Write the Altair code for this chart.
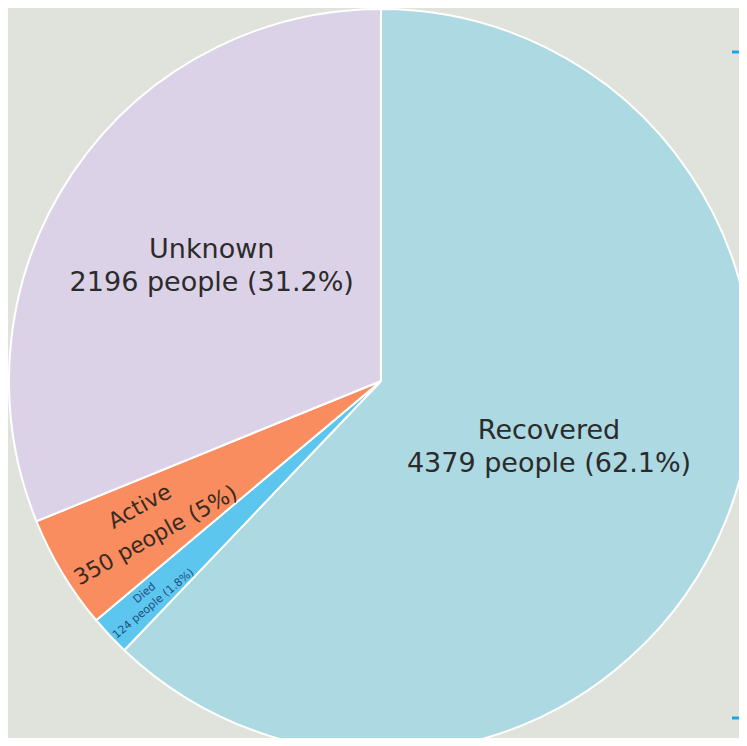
import altair as alt
import pandas as pd

categories = ["Recovered", "Died", "Active", "Unknown"]
people = [4379, 124, 350, 2196]
pct_labels = ["62.1%", "1.8%", "5%", "31.2%"]
colors = ["#add9e2", "#5cc6ef", "#f98d5f", "#dcd2e8"]
order = [0, 1, 2, 3]

label_radius = [181, 318, 272, 204]
label_angle = [0, 320, 331, 0]
label_size = [27, 11, 22, 27]
label_color = ["#2b2b2b", "#1f4f80", "#3a2a22", "#2b2b2b"]
label_small = [False, True, False, False]

df = pd.DataFrame({
    "category": categories,
    "people": people,
    "ord": order,
    "lines": [[c, f"{p} people ({q})"] for c, p, q in zip(categories, people, pct_labels)],
    "lr": label_radius,
    "la": label_angle,
    "ls": label_size,
    "lc": label_color,
    "small": label_small,
})

CX, CY, R = 373, 373, 372

pie = alt.Chart(df).mark_arc(outerRadius=R, stroke="white", strokeWidth=2).encode(
    theta=alt.Theta("people:Q", stack=True),
    order=alt.Order("ord:Q"),
    x=alt.value(CX), y=alt.value(CY),
    color=alt.Color("category:N", scale=alt.Scale(domain=categories, range=colors), legend=None),
)

lab_base = alt.Chart(df).transform_joinaggregate(
    total="sum(people)"
).transform_window(
    cum="sum(people)", sort=[alt.SortField("ord")], frame=[None, 0]
).transform_calculate(
    mid="(datum.cum - datum.people / 2) / datum.total * 2 * PI"
).encode(
    theta=alt.Theta("mid:Q", scale=None),
    x=alt.value(CX), y=alt.value(CY),
    radius=alt.Radius("lr:Q", scale=None),
    angle=alt.Angle("la:Q", scale=None),
    size=alt.Size("ls:Q", scale=None, legend=None),
    color=alt.Color("lc:N", scale=None),
    text="lines",
)

big_labels = lab_base.transform_filter("!datum.small").mark_text(
    font="DejaVu Sans", lineHeight=33, baseline="middle", align="center", dy=-17
)
small_labels = lab_base.transform_filter("datum.small").mark_text(
    font="DejaVu Sans", lineHeight=14, baseline="middle", align="center", dy=-7
)

tick_y = [44, 710]
ticks = alt.Chart(pd.DataFrame({"ty": tick_y})).mark_rule(color="#1aa7e8", strokeWidth=3).encode(
    x=alt.value(724), x2=alt.value(731), y=alt.Y("ty:Q", scale=None),
)

chart = alt.layer(pie, big_labels, small_labels, ticks).properties(
    width=731, height=730, padding=0,
    autosize=alt.AutoSizeParams(type="none"),
    background="#e0e3db",
).configure_view(stroke=None)

chart.save("out.html", embed_options={"renderer": "svg", "actions": False})
